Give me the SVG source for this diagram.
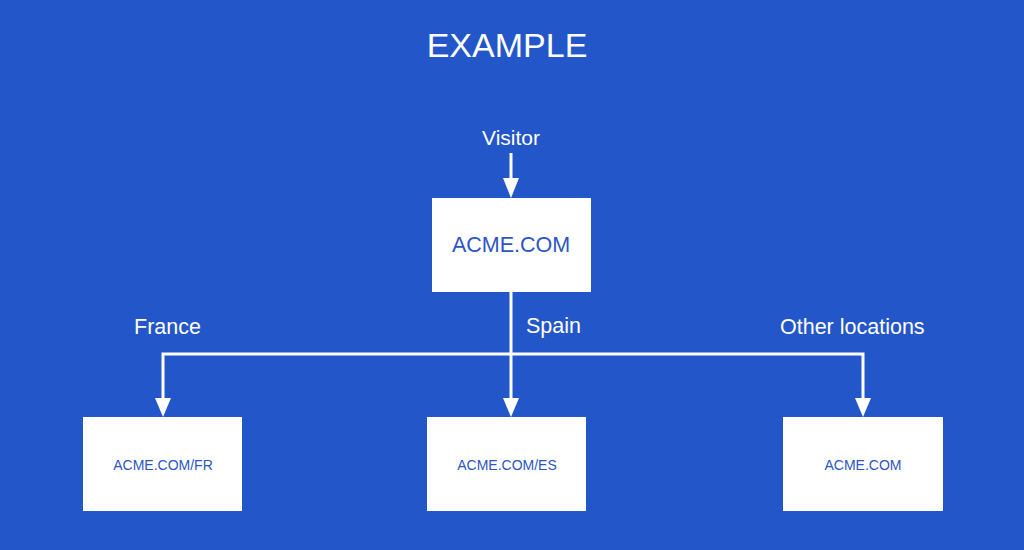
<svg xmlns="http://www.w3.org/2000/svg" width="1024" height="550" viewBox="0 0 1024 550">
<defs>
<style>
.bg{fill:#2356c8}
.box{fill:#ffffff}
.wt{fill:#ffffff;font-family:"Liberation Sans",Arial,sans-serif}
.bt{fill:#2c55c6;font-family:"Liberation Sans",Arial,sans-serif;text-anchor:middle}
.ln{stroke:#ffffff;stroke-width:3;fill:none}
</style>
</defs>
<rect class="bg" x="0" y="0" width="1024" height="550"/>
<text class="wt" x="507" y="57" font-size="34" text-anchor="middle">EXAMPLE</text>
<text class="wt" x="511" y="145" font-size="21" text-anchor="middle">Visitor</text>
<text class="wt" x="134" y="334" font-size="21.5">France</text>
<text class="wt" x="526" y="333" font-size="21.5">Spain</text>
<text class="wt" x="780" y="334" font-size="21.5">Other locations</text>
<g id="connectors">
<path class="ln" d="M511,153 V178"/>
<path d="M503,178 L519,178 L511,198 Z" fill="#ffffff"/>
<path class="ln" d="M511,291 V398"/>
<path d="M503,398 L519,398 L511,417 Z" fill="#ffffff"/>
<path class="ln" d="M163,398 V354 H863 V398"/>
<path d="M155,398 L171,398 L163,417 Z" fill="#ffffff"/>
<path d="M855,398 L871,398 L863,417 Z" fill="#ffffff"/>
</g>
<g id="main">
<rect class="box" x="432" y="198" width="159" height="94"/>
<text class="bt" x="511" y="252" font-size="21.5">ACME.COM</text>
</g>
<g id="fr">
<rect class="box" x="83" y="417" width="159" height="94"/>
<text class="bt" x="163" y="470" font-size="14">ACME.COM/FR</text>
</g>
<g id="es">
<rect class="box" x="427" y="417" width="159" height="94"/>
<text class="bt" x="507" y="470" font-size="14">ACME.COM/ES</text>
</g>
<g id="other">
<rect class="box" x="783" y="417" width="160" height="94"/>
<text class="bt" x="863" y="470" font-size="14">ACME.COM</text>
</g>
</svg>
